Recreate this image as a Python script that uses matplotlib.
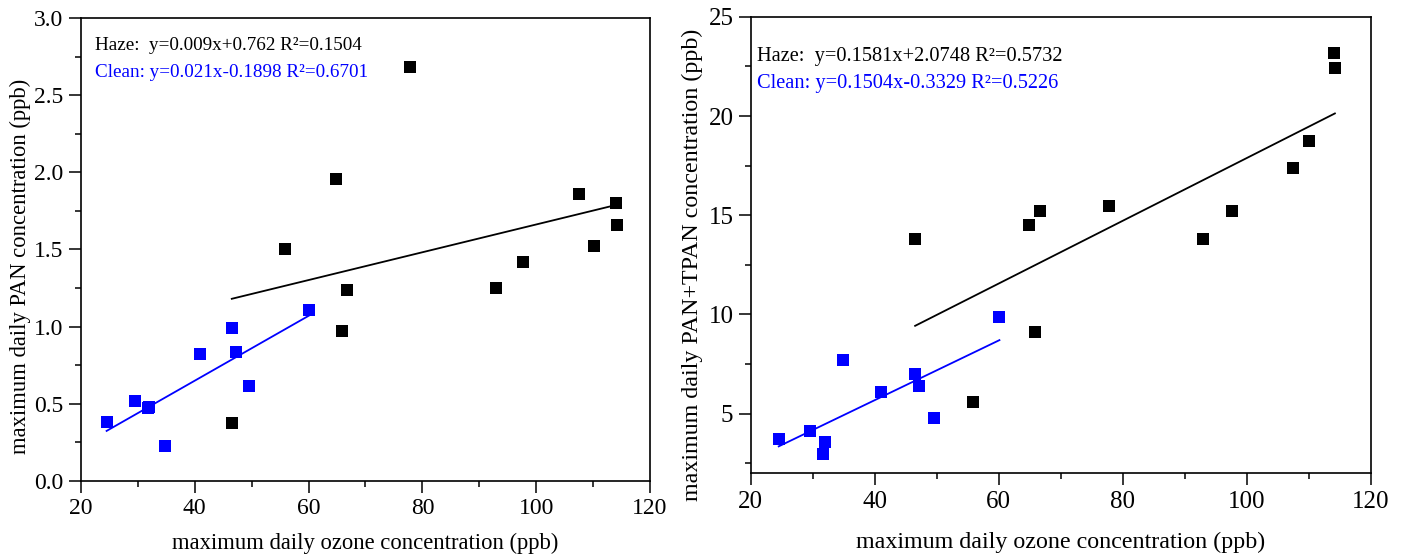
import matplotlib

matplotlib.use("Agg")
import matplotlib.pyplot as plt
import numpy as np
from matplotlib.ticker import MultipleLocator

plt.rcParams["font.family"] = ["Liberation Serif", "DejaVu Serif"]

# Ozone (x) for haze and clean days
haze_ozone = [46.5, 55.8, 64.8, 65.8, 66.7, 77.8, 92.9, 97.6, 107.5, 110.1, 114.0, 114.2]
clean_ozone = [24.5, 29.5, 31.7, 31.9, 34.8, 41.0, 46.5, 47.2, 49.5, 60.1]

# Left panel: PAN
haze_pan = [0.375, 1.504, 1.959, 0.969, 1.236, 2.68, 1.251, 1.417, 1.858, 1.521, 1.80, 1.657]
clean_pan = [0.382, 0.516, 0.47, 0.48, 0.224, 0.824, 0.992, 0.837, 0.613, 1.105]

# Right panel: PAN+TPAN
haze_tpan = [13.81, 5.59, 14.51, 9.11, 15.22, 15.47, 13.81, 15.22, 17.36, 18.75, 23.16, 22.41]
clean_tpan = [3.72, 4.14, 2.96, 3.57, 7.71, 6.08, 7.02, 6.41, 4.76, 9.87]

# Fit coefficients (slope, intercept) as printed on the chart
fit_pan_haze = (0.009, 0.762)
fit_pan_clean = (0.021, -0.1898)
fit_tpan_haze = (0.1581, 2.0748)
fit_tpan_clean = (0.1504, -0.3329)

labels_pan = ["Haze:  y=0.009x+0.762 R²=0.1504", "Clean: y=0.021x-0.1898 R²=0.6701"]
labels_tpan = ["Haze:  y=0.1581x+2.0748 R²=0.5732", "Clean: y=0.1504x-0.3329 R²=0.5226"]

BLUE = "#0000ff"


def draw_panel(ax, haze_y, clean_y, fit_haze, fit_clean, labels, text_pos, scale, xpad):
    ax.scatter(haze_ozone, haze_y, marker="s", s=75, color="black", linewidths=0, zorder=3)
    ax.scatter(clean_ozone, clean_y, marker="s", s=75, color=BLUE, linewidths=0, zorder=3)
    for xs, (k, b), c in ((haze_ozone, fit_haze, "black"), (clean_ozone, fit_clean, BLUE)):
        xx = np.array([min(xs), max(xs)])
        ax.plot(xx, k * xx + b, color=c, lw=1.3, zorder=2)
    tx, ty0, ty1 = text_pos
    ax.text(tx, ty0, labels[0], transform=ax.transAxes, fontsize=13.8 * scale,
            color="black", va="center")
    ax.text(tx, ty1, labels[1], transform=ax.transAxes, fontsize=13.8 * scale,
            color=BLUE, va="center")
    ax.set_xlim(20, 120)
    ax.xaxis.set_major_locator(MultipleLocator(20))
    ax.xaxis.set_minor_locator(MultipleLocator(10))
    ax.set_xlabel("maximum daily ozone concentration (ppb)", fontsize=16.3 * scale, labelpad=xpad)
    ax.tick_params(which="both", direction="out", top=False, right=False,
                   labelsize=17 * scale, width=1.1)
    ax.tick_params(which="major", length=8.5, pad=4)
    ax.tick_params(which="minor", length=4.5)
    for sp in ax.spines.values():
        sp.set_linewidth(1.2)


fig = plt.figure(figsize=(14.06, 5.6), dpi=100)
ax1 = fig.add_axes([0.0576, 0.141, 0.4047, 0.827])
ax2 = fig.add_axes([0.534, 0.155, 0.441, 0.815])

draw_panel(ax1, haze_pan, clean_pan, fit_pan_haze, fit_pan_clean, labels_pan,
           (0.025, 0.94, 0.883), 1.0, 10)
ax1.set_ylim(0, 3.0)
ax1.yaxis.set_major_locator(MultipleLocator(0.5))
ax1.yaxis.set_minor_locator(MultipleLocator(0.25))
ax1.yaxis.set_major_formatter(lambda v, p: f"{v:.1f}")
ax1.set_ylabel("maximum daily PAN concentration (ppb)", fontsize=16.3, labelpad=2)
ax1.yaxis.label.set_y(0.464)

draw_panel(ax2, haze_tpan, clean_tpan, fit_tpan_haze, fit_tpan_clean, labels_tpan,
           (0.01, 0.912, 0.853), 1.06, 14)
ax2.set_ylim(2, 25)
ax2.yaxis.set_major_locator(MultipleLocator(5))
ax2.yaxis.set_minor_locator(MultipleLocator(2.5))
ax2.set_ylabel("maximum daily PAN+TPAN concentration (ppb)", fontsize=16.3 * 1.06, labelpad=4)
ax2.yaxis.label.set_y(0.456)

fig.savefig("out.png", dpi=100)
